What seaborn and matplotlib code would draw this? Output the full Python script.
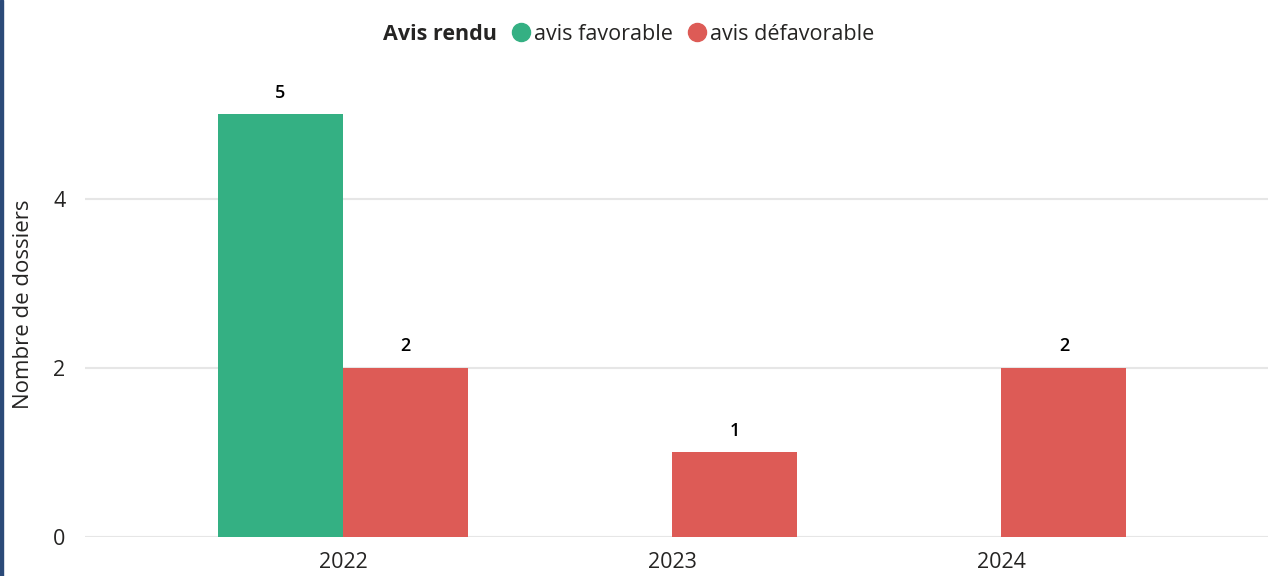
import matplotlib
matplotlib.use('Agg')
from matplotlib import pyplot as plt
from matplotlib.lines import Line2D
from matplotlib.patches import Rectangle
import seaborn as sns
import pandas as pd

# Data
years = ['2022', '2023', '2024']
favorable = [5, None, None]
defavorable = [2, 1, 2]
hue_levels = ['avis favorable', 'avis défavorable']
colors = ['#34B083', '#DD5B56']

rows = []
for y, f, d in zip(years, favorable, defavorable):
    if f is not None:
        rows.append({'annee': y, 'avis': hue_levels[0], 'n': f})
    if d is not None:
        rows.append({'annee': y, 'avis': hue_levels[1], 'n': d})
df = pd.DataFrame(rows)

sns.set_style('white')
plt.rcParams['font.family'] = ['Open Sans', 'DejaVu Sans']
txt = '#252423'

fig = plt.figure(figsize=(12.7, 5.76), dpi=100)
ax = fig.add_axes([85 / 1270, 1 - 537 / 576, (1268 - 85) / 1270, (537 - 72) / 576])

sns.barplot(data=df, x='annee', y='n', hue='avis', hue_order=hue_levels,
            order=years, palette=colors, width=0.76, gap=0, saturation=1,
            linewidth=0, legend=False, ax=ax)

for c in ax.containers:
    ax.bar_label(c, padding=9, fontsize=13, fontweight='semibold', color='black')

ax.set_ylim(0, 5.5)
ax.set_xlim(-0.784, 2.81)
ax.set_yticks([0, 2, 4])
ax.yaxis.grid(True, color='#E6E6E6', linewidth=1.5)
ax.set_axisbelow(True)
for s in ax.spines.values():
    s.set_visible(False)
ax.tick_params(axis='both', length=0, labelsize=15.5, colors=txt)
ax.tick_params(axis='y', pad=14)
ax.tick_params(axis='x', pad=11)
ax.set_xlabel('')
ax.set_ylabel('Nombre de dossiers', fontsize=16, color=txt, labelpad=14)

# Legend
fig.text(383 / 1270, 1 - 34 / 576, 'Avis rendu', fontsize=15.5, fontweight='bold',
         color=txt, va='center', ha='left')
handles = [Line2D([], [], marker='o', linestyle='', markersize=13, color=c) for c in colors]
fig.legend(handles, hue_levels, loc='center left', bbox_to_anchor=(505 / 1270, 1 - 34 / 576),
           ncol=2, frameon=False, fontsize=15.5, handletextpad=-0.15, columnspacing=0.35,
           handlelength=1.5, borderaxespad=0, borderpad=0, labelcolor=txt)

# left border
fig.patches.append(Rectangle((0, 0), 2.5 / 1270, 1, transform=fig.transFigure,
                             color='#2B4A78', zorder=10))

fig.savefig('out.png', dpi=100)
